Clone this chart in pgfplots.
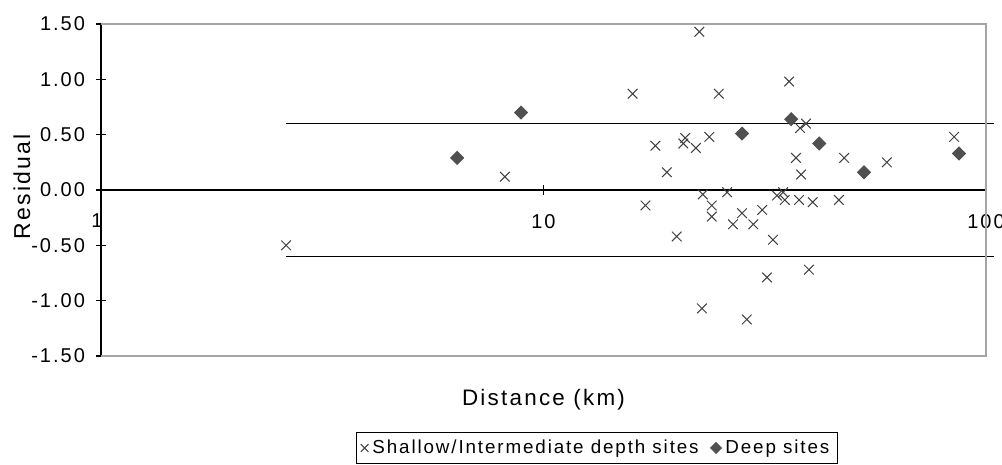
\documentclass[border=0pt]{standalone}
\usepackage{fontspec}
\setmainfont{Liberation Sans}[LetterSpace=10]
\usepackage{pgfplots}
\pgfplotsset{compat=1.18}
\definecolor{crossgray}{RGB}{64,64,64}
\definecolor{deepgray}{RGB}{80,80,80}
\definecolor{framegray}{RGB}{165,165,165}
\pgfplotsset{
    legmark/.style={legend image code/.code={\draw[mark repeat=2,mark phase=2,##1,mark size=#1]
        plot coordinates {(0cm,0cm) (0.14cm,0cm) (0.28cm,0cm)};}},
}

\begin{document}
\begin{tikzpicture}
\begin{axis}[
    scale only axis,
    width=442.5pt, height=166pt,
    xmode=log, xmin=1, xmax=100,
    ymin=-1.5, ymax=1.5,
    axis x line=middle, axis y line=left,
    axis line style={-, black, line width=0.6pt},
    hide obscured x ticks=false, hide obscured y ticks=false,
    xtick={1,10,100}, xticklabels={\hspace*{-4pt}1,10,100},
    xminorticks=false,
    ytick={-1.5,-1,-0.5,0,0.5,1,1.5},
    tick align=center, major tick length=5pt,
    tick style={black, line width=0.6pt},
    /pgf/number format/assume math mode=true,
    yticklabel style={/pgf/number format/.cd, fixed, fixed zerofill, precision=2, /tikz/.cd,
        font=\fontsize{10}{12}\selectfont, xshift=-2pt},
    xticklabel style={font=\fontsize{10}{12}\selectfont, yshift=-6pt},
    xlabel={Distance (km)}, ylabel={Residual},
    every axis x label/.style={at={(axis description cs:0.5,-0.1325)}, anchor=center,
        font=\fontsize{11.2}{13}\selectfont},
    every axis y label/.style={at={(axis description cs:-0.0893,0.51)}, anchor=center,
        rotate=90, font=\fontsize{11.5}{13}\selectfont},
    clip=false,
    legend columns=2,
    legend style={at={(axis description cs:0.5605,-0.277)}, anchor=center,
        draw=black, line width=0.5pt, font=\fontsize{9.4}{11}\selectfont,
        inner xsep=2pt, inner ysep=1.5pt,
        /tikz/every even column/.append style={column sep=4pt}},
]
\addplot[forget plot, black, line width=0.7pt] coordinates {(2.62,0.6) (104,0.6)};
\addplot[forget plot, black, line width=0.7pt] coordinates {(2.62,-0.6) (104,-0.6)};

\addplot[only marks, mark=x, mark size=3.4pt, color=crossgray, line width=0.5pt, legmark=2.7pt]
coordinates {
    (2.62,-0.50) (8.18,0.12) (15.9,0.87) (22.5,1.43) (24.9,0.87)
    (17.9,0.40) (20.9,0.47) (20.7,0.42) (22.1,0.38) (23.7,0.48)
    (19.0,0.16) (35.9,0.98) (38.0,0.56) (39.2,0.60) (37.2,0.29)
    (38.2,0.14) (47.8,0.29) (59.7,0.25) (84.7,0.48) (17.0,-0.14)
    (20.0,-0.42) (22.9,-0.04) (26.0,-0.02) (24.0,-0.14) (24.0,-0.24)
    (28.1,-0.21) (26.8,-0.31) (22.8,-1.07) (28.8,-1.17) (29.8,-0.31)
    (31.2,-0.18) (33.0,-0.45) (33.7,-0.05) (34.8,-0.02) (35.1,-0.09)
    (37.8,-0.09) (40.6,-0.11) (46.5,-0.09) (32.0,-0.79) (39.8,-0.72)
};
\addlegendentry{Shallow/Intermediate depth sites}

\addplot[only marks, mark=square*, mark size=2.3pt, color=deepgray,
    mark options={rotate=45, fill=deepgray, draw=deepgray}, legmark=1.9pt]
coordinates {
    (6.38,0.29) (8.90,0.70) (28.1,0.51) (36.3,0.64)
    (42.0,0.42) (53.0,0.16) (86.9,0.33)
};
\addlegendentry{Deep sites}

\draw[framegray, line width=0.6pt] (rel axis cs:0,1) -- (rel axis cs:1,1) -- (rel axis cs:1,0) -- (rel axis cs:0,0);
\end{axis}
\pgfresetboundingbox
\path[use as bounding box] ([xshift=-50.5pt,yshift=-54.5pt]current axis.south west)
    rectangle ([xshift=8pt,yshift=12pt]current axis.north east);
\end{tikzpicture}
\end{document}
